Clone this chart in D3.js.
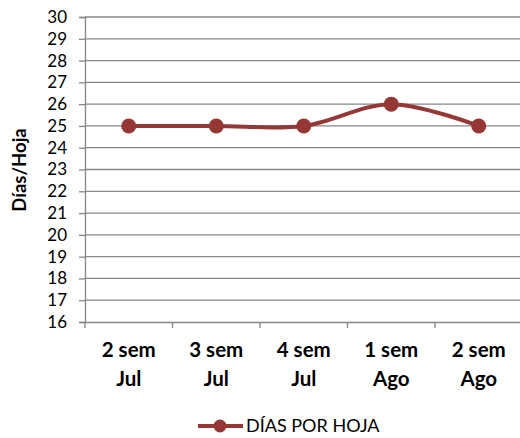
<!DOCTYPE html>
<html><head><meta charset="utf-8">
<script src="https://cdn.jsdelivr.net/npm/d3@7"></script>
<style>body{margin:0;background:#fff}text{font-family:Lato,"Open Sans",sans-serif}</style>
</head><body>
<svg id="c" width="520" height="438"></svg>
<script>
const categories = [["2 sem","Jul"],["3 sem","Jul"],["4 sem","Jul"],["1 sem","Ago"],["2 sem","Ago"]];
const values = [25, 25, 25, 26, 25];
const yTicks = d3.range(16, 31, 1);
const seriesName = "DÍAS POR HOJA";
const yTitle = "Días/Hoja";

(function(){
const svg = d3.select("#c");
const mLeft = 85, mRight = 522.5, mTop = 17, mBottom = 322;
const color = "#953735", axisCol = "#868686";
const x = d3.scaleBand().domain(categories.map((d,i)=>i)).range([mLeft, mRight]);
const y = d3.scaleLinear().domain([16, 30]).range([mBottom, mTop]);

// gridlines
svg.append("g").selectAll("line").data(yTicks.filter(t=>t>16)).join("line")
  .attr("x1", mLeft).attr("x2", mRight).attr("y1", d=>y(d)).attr("y2", d=>y(d))
  .attr("stroke", axisCol).attr("stroke-width", 1.3);

// y axis
const ya = svg.append("g").attr("transform", `translate(${mLeft},0)`)
  .call(d3.axisLeft(y).tickValues(yTicks).tickSize(6).tickPadding(12));
ya.select(".domain").attr("stroke", axisCol).attr("stroke-width", 1.3);
ya.selectAll(".tick line").attr("stroke", axisCol).attr("stroke-width", 1.3);
ya.selectAll(".tick text").attr("font-size", 17).attr("fill", "#000")
  .style("font-family", "Lato, sans-serif");

// x axis
const xa = svg.append("g").attr("transform", `translate(0,${mBottom})`)
  .call(d3.axisBottom(x).tickSize(0).tickFormat(""));
xa.select(".domain").attr("stroke", axisCol).attr("stroke-width", 1.3);
const bounds = categories.map((d,i)=>x(i)).concat([mRight]);
svg.append("g").selectAll("line").data(bounds).join("line")
  .attr("x1", d=>d).attr("x2", d=>d).attr("y1", mBottom).attr("y2", mBottom+6)
  .attr("stroke", axisCol).attr("stroke-width", 1.3);

const xl = svg.append("g").selectAll("text").data(categories).join("text")
  .attr("text-anchor", "middle").attr("font-size", 20.5).attr("font-weight", "bold")
  .attr("x", (d,i)=>x(i)+x.bandwidth()/2);
xl.append("tspan").attr("x", (d,i)=>x(i)+x.bandwidth()/2).attr("y", 357).text(d=>d[0]);
xl.append("tspan").attr("x", (d,i)=>x(i)+x.bandwidth()/2).attr("y", 386).text(d=>d[1]);

// y title
svg.append("text").attr("transform", `translate(26,${170}) rotate(-90)`)
  .attr("text-anchor", "middle").attr("font-size", 18.5).attr("font-weight", "bold").text(yTitle);

// line
const cx = (d,i)=>x(i)+x.bandwidth()/2;
svg.append("path").datum(values)
  .attr("d", d3.line().x(cx).y(d=>y(d)).curve(d3.curveCardinal.tension(0)))
  .attr("fill", "none").attr("stroke", color).attr("stroke-width", 4);
svg.append("g").selectAll("circle").data(values).join("circle")
  .attr("cx", cx).attr("cy", d=>y(d)).attr("r", 7.5).attr("fill", color);

// legend
const lg = svg.append("g");
lg.append("line").attr("x1", 198).attr("x2", 243).attr("y1", 426).attr("y2", 426)
  .attr("stroke", color).attr("stroke-width", 4);
lg.append("circle").attr("cx", 220).attr("cy", 426).attr("r", 6.5).attr("fill", color);
lg.append("text").attr("x", 246).attr("y", 432).attr("font-size", 18).text(seriesName);
})();
</script>
</body></html>
